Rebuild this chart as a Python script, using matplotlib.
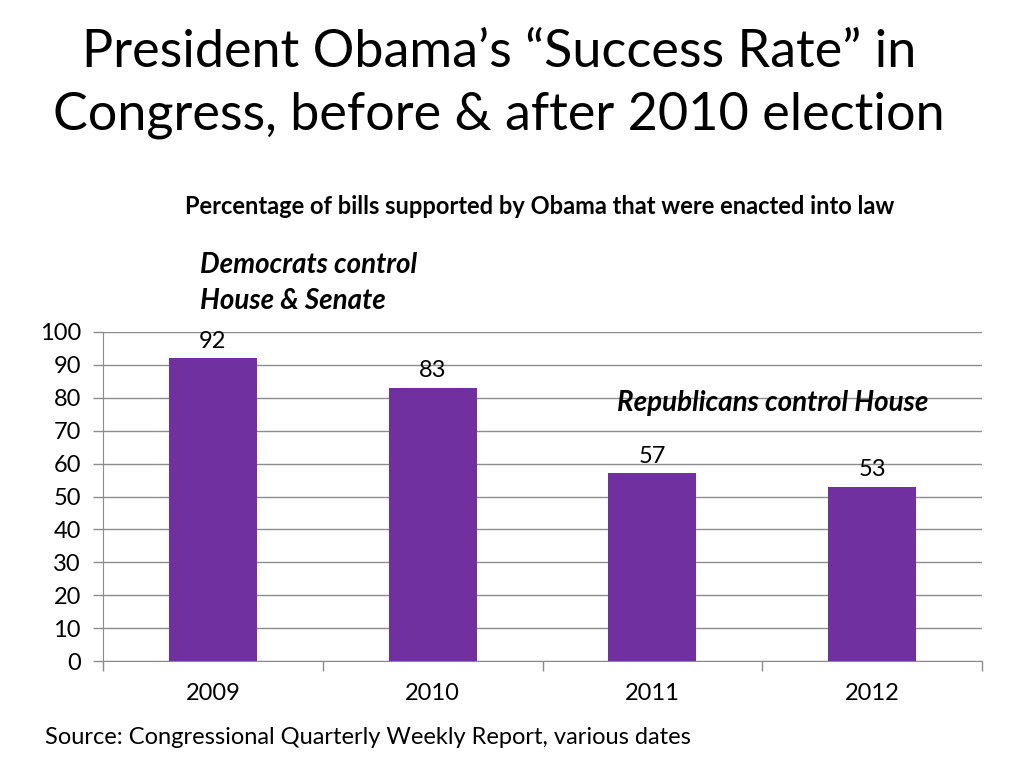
import matplotlib.pyplot as plt

# data
years = ["2009", "2010", "2011", "2012"]
success = [92, 83, 57, 53]
y_ticks = [0, 10, 20, 30, 40, 50, 60, 70, 80, 90, 100]

plt.rcParams['font.family'] = ['Lato', 'DejaVu Sans']

fig = plt.figure(figsize=(10.24, 7.68), dpi=100)
ax = fig.add_axes([103/1024, 1 - 661/768, 879/1024, 329/768])

x = range(len(years))
ax.bar(x, success, width=0.4, color="#7030a0", zorder=3)
for xi, v in zip(x, success):
    ax.text(xi, v + 2.0, str(v), ha="center", va="bottom", fontsize=17)

ax.set_xlim(-0.5, len(years) - 0.5)
ax.set_ylim(0, 100)
ax.set_yticks(y_ticks)
ax.set_yticklabels([str(t) for t in y_ticks], fontsize=17)
ax.yaxis.grid(True, color="#8c8c8c", linewidth=1, zorder=0)
ax.tick_params(axis="y", length=7, color="#8c8c8c", width=1, pad=9)

# category labels between boundary ticks
ax.set_xticks([i - 0.5 for i in range(len(years) + 1)])
ax.set_xticklabels([])
ax.set_xticks(list(x), minor=True)
ax.set_xticklabels(years, minor=True, fontsize=17)
ax.tick_params(axis="x", which="major", length=7, color="#8c8c8c", width=1)
ax.tick_params(axis="x", which="minor", length=0, pad=16)

for s in ["top", "right"]:
    ax.spines[s].set_visible(False)
for s in ["left", "bottom"]:
    ax.spines[s].set_color("#8c8c8c")

fig.text(0.487, 0.962, "President Obama\u2019s \u201cSuccess Rate\u201d in\nCongress, before & after 2010 election",
         ha="center", va="top", fontsize=37.5, linespacing=1.4)
fig.text(0.527, 1 - 207/768, "Percentage of bills supported by Obama that were enacted into law",
         ha="center", va="center", fontsize=17, fontweight="bold")
fig.text(200/1024, 1 - 283/768, "Democrats control\nHouse & Senate", ha="left", va="center",
         fontsize=20, fontweight="bold", fontstyle="italic", linespacing=1.45)
fig.text(773/1024, 1 - 403/768, "Republicans control House", ha="center", va="center",
         fontsize=20, fontweight="bold", fontstyle="italic")
fig.text(45/1024, 1 - 738/768, "Source: Congressional Quarterly Weekly Report, various dates",
         ha="left", va="center", fontsize=17)

fig.savefig("out.png", dpi=100)
